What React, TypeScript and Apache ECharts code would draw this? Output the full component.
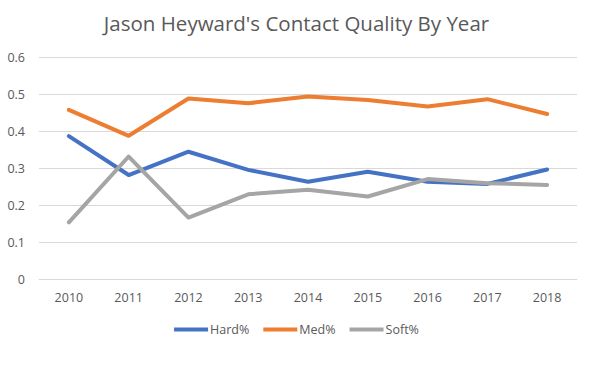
import React, { useEffect, useRef } from "react";
import * as echarts from "echarts";

const years = ["2010", "2011", "2012", "2013", "2014", "2015", "2016", "2017", "2018"];
const hard = [0.386, 0.281, 0.344, 0.295, 0.263, 0.29, 0.263, 0.257, 0.296];
const med = [0.457, 0.387, 0.488, 0.475, 0.493, 0.484, 0.466, 0.486, 0.446];
const soft = [0.153, 0.331, 0.166, 0.229, 0.241, 0.223, 0.27, 0.259, 0.254];
const yTicks = [0, 0.1, 0.2, 0.3, 0.4, 0.5, 0.6];

export default function App() {
  const ref = useRef<HTMLDivElement>(null);
  useEffect(() => {
    if (!ref.current) return;
    const chart = echarts.init(ref.current, null, { renderer: "svg" });
    const font = "'Open Sans', 'Liberation Sans', sans-serif";
    const mk = (name: string, data: number[], color: string) => ({
      name,
      type: "line",
      data,
      showSymbol: false,
      symbol: "none",
      lineStyle: { width: 4, color, cap: "round", join: "round" },
      itemStyle: { color },
    });
    chart.setOption({
      animation: false,
      backgroundColor: "#ffffff",
      title: {
        text: "Jason Heyward's Contact Quality By Year",
        left: "center",
        top: 7,
        textStyle: { fontFamily: font, fontSize: 20.5, fontWeight: "normal", color: "#595959" },
      },
      legend: {
        bottom: 41,
        left: "center",
        icon: "rect",
        itemWidth: 34,
        itemHeight: 4,
        itemGap: 14,
        textStyle: { fontFamily: font, fontSize: 12.5, color: "#595959", padding: [0, 0, 0, -3] },
        data: ["Hard%", "Med%", "Soft%"],
      },
      grid: { left: 39, right: 16, top: 57, bottom: 103, containLabel: false },
      xAxis: {
        type: "category",
        data: years,
        boundaryGap: true,
        axisLine: { show: true, lineStyle: { color: "#d9d9d9" } },
        axisTick: { show: false },
        axisLabel: { fontFamily: font, fontSize: 12.5, color: "#595959", margin: 12 },
      },
      yAxis: {
        type: "value",
        min: 0,
        max: 0.6,
        interval: 0.1,
        axisLine: { show: false },
        axisTick: { show: false },
        splitLine: { lineStyle: { color: "#d9d9d9" } },
        axisLabel: {
          fontFamily: font,
          fontSize: 12.5,
          color: "#595959",
          margin: 14,
          formatter: (v: number) => {
            const t = yTicks.find((x) => Math.abs(x - v) < 1e-9);
            return t === undefined ? "" : String(Math.round(t * 10) / 10);
          },
        },
      },
      series: [mk("Hard%", hard, "#4472C4"), mk("Med%", med, "#ED7D31"), mk("Soft%", soft, "#A5A5A5")],
    });
    return () => chart.dispose();
  }, []);
  return <div ref={ref} style={{ position: "fixed", left: 0, top: 0, width: 593, height: 382 }} />;
}
